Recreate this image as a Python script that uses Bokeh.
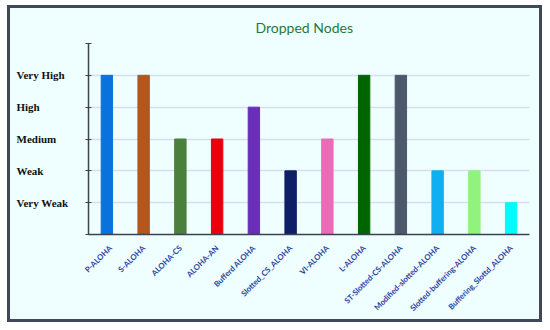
from bokeh.plotting import figure
from bokeh.layouts import row
from bokeh.models import FixedTicker, ColumnDataSource
from bokeh.core.properties import value
from bokeh.embed import file_html
from bokeh.resources import INLINE
import math

protocols = ["P-ALOHA", "S-ALOHA", "ALOHA-CS", "ALOHA-AN", "Bufferd ALOHA",
             "Slotted_CS_ALOHA", "VI-ALOHA", "L-ALOHA", "ST-Slotted-CS-ALOHA",
             "Modified-slotted-ALOHA", "Slotted-buffering-ALOHA", "Buffering_Slottd_ALOHA"]
dropped = [5, 5, 3, 3, 4, 2, 3, 5, 5, 2, 2, 1]
colors = ["#0a72dc", "#b5561a", "#4a7f3c", "#e8000c", "#6a2fb8", "#0e1f66",
          "#ea6cb8", "#006400", "#4d586b", "#12aef2", "#92f27e", "#00fbfb"]
level_values = [1, 2, 3, 4, 5]
level_labels = ["Very Weak", "Weak", "Medium", "High", "Very High"]
y_ticks = [0, 1, 2, 3, 4, 5, 6]

bg = "#effefe"
H = 311
TOP = 35
BOTTOM = 85

# main chart
p = figure(x_range=protocols, y_range=(0, 6), width=457, height=H,
           output_backend="svg", toolbar_location=None,
           min_border_left=6, min_border_right=10, min_border_top=TOP, min_border_bottom=BOTTOM,
           background_fill_color=bg, border_fill_color=bg, outline_line_color=None,
           title="Dropped Nodes")
p.x_range.range_padding = 0

p.vbar(x=protocols, top=dropped, width=0.31, color=colors)

p.title.align = "left"
p.title.offset = 167
p.title.standoff = 16
p.title.text_font = "Lato"
p.title.text_font_size = "14px"
p.title.text_font_style = "normal"
p.title.text_color = "#1f7a3c"

p.xgrid.grid_line_color = None
p.ygrid.grid_line_color = "#d8def2"
p.ygrid.grid_line_width = 1.5

p.yaxis.ticker = FixedTicker(ticks=y_ticks)
p.yaxis.major_label_text_font_size = "0px"
p.yaxis.major_label_text_color = None
p.yaxis.major_label_standoff = 0
p.yaxis.axis_line_color = "#3b4252"
p.yaxis.axis_line_width = 1.5
p.yaxis.major_tick_line_color = "#3b4252"
p.yaxis.major_tick_in = 3
p.yaxis.major_tick_out = 3
p.yaxis.minor_tick_line_color = None

p.xaxis.major_label_orientation = math.pi / 4
p.xaxis.major_label_text_font = "Lato"
p.xaxis.major_label_text_font_style = "bold"
p.xaxis.major_label_text_font_size = "7.8px"
p.xaxis.major_label_text_color = "#2a3d9c"
p.xaxis.major_tick_line_color = None
p.xaxis.axis_line_color = "#3b4252"
p.xaxis.axis_line_width = 1.5
p.xaxis.major_label_standoff = 6

# left label column (category level names)
lab = figure(x_range=(0, 72), y_range=p.y_range, width=72, height=H,
             output_backend="svg", toolbar_location=None,
             x_axis_type=None, y_axis_type=None,
             min_border_left=0, min_border_right=0, min_border_top=TOP, min_border_bottom=BOTTOM,
             background_fill_color=bg, border_fill_color=bg, outline_line_color=None)
lab.grid.visible = False
src = ColumnDataSource(dict(x=[6] * len(level_values), y=level_values, t=level_labels))
lab.text(x="x", y="y", text="t", source=src,
         text_font=value("Liberation Serif"), text_font_style="bold",
         text_font_size="11px", text_color="#111111",
         text_baseline="middle", text_align="left")

layout = row(lab, p, spacing=0)
layout.styles = {"border": "3px solid #3e4858", "margin-left": "7px", "margin-top": "5px",
                 "background-color": bg}

open("out.html", "w").write(file_html(layout, INLINE))
